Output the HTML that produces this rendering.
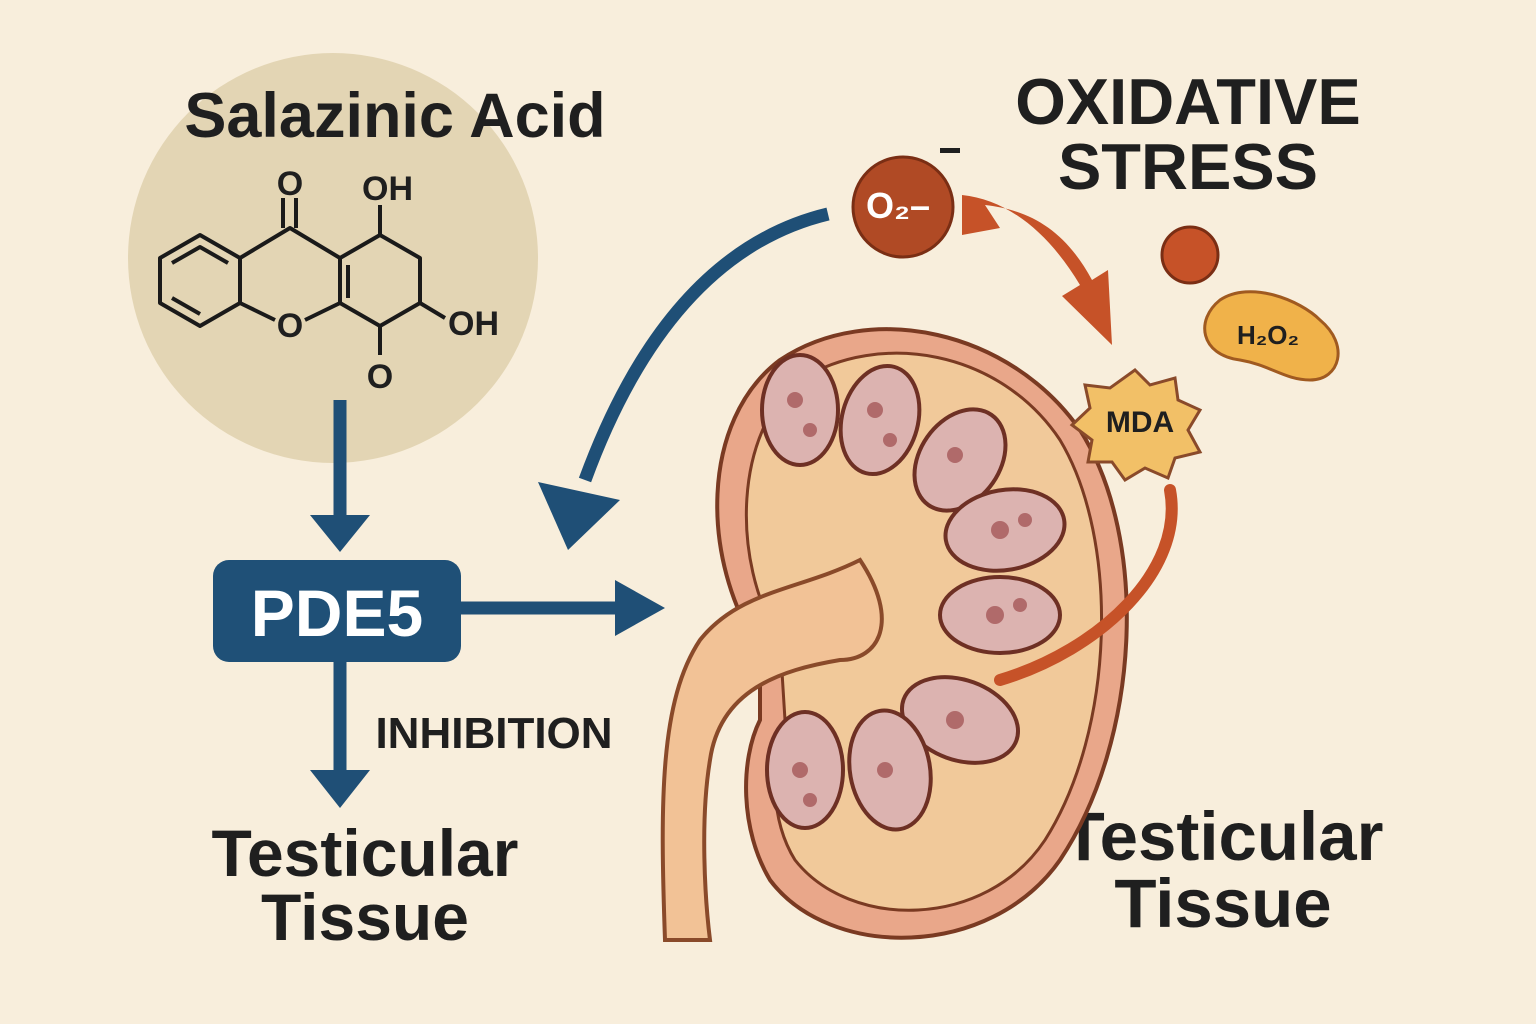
<!DOCTYPE html>
<html><head><meta charset="utf-8"><style>
html,body{margin:0;padding:0;background:#f8eedc;}
svg{display:block}
text{font-family:"Liberation Sans",sans-serif;font-weight:bold;fill:#1f1f1f}
</style></head><body>
<svg width="1536" height="1024" viewBox="0 0 1536 1024" xmlns="http://www.w3.org/2000/svg">
<rect width="1536" height="1024" fill="#f8eedc"/>
<circle cx="333" cy="258" r="205" fill="#e3d5b4"/>
<text x="395" y="137" font-size="63" text-anchor="middle">Salazinic Acid</text>
<!-- molecule -->
<g stroke="#1a1a1a" stroke-width="4" fill="none" stroke-linejoin="round">
<polygon points="160,258 200,235 240,258 240,303 200,326 160,303"/>
<polyline points="172,263 200,247 228,263"/><line x1="172" y1="298" x2="200" y2="314"/>
<polyline points="240,258 290,228 340,258 340,303"/>
<polyline points="240,303 275,320"/><polyline points="305,320 340,303"/>
<line x1="283" y1="228" x2="283" y2="198"/><line x1="296" y1="228" x2="296" y2="198"/>
<polyline points="340,258 380,235 420,258 420,303 380,326 340,303"/>
<line x1="348" y1="265" x2="348" y2="298"/>
<line x1="380" y1="235" x2="380" y2="205"/>
<line x1="420" y1="303" x2="445" y2="318"/>
<line x1="380" y1="326" x2="380" y2="355"/>
</g>
<text x="290" y="195" font-size="34" text-anchor="middle" font-weight="normal">O</text>
<text x="290" y="337" font-size="34" text-anchor="middle" font-weight="normal">O</text>
<text x="362" y="200" font-size="34" font-weight="normal">OH</text>
<text x="448" y="335" font-size="34" font-weight="normal">OH</text>
<text x="380" y="388" font-size="34" text-anchor="middle" font-weight="normal">O</text>
<!-- blue arrows -->
<g stroke="#1f4f76" stroke-width="13" fill="none">
<line x1="340" y1="400" x2="340" y2="520"/>
<line x1="340" y1="660" x2="340" y2="775"/>
<line x1="460" y1="608" x2="620" y2="608"/>
<path d="M828,214 C720,240 640,330 585,480"/>
</g>
<g fill="#1f4f76">
<polygon points="310,515 370,515 340,552"/>
<polygon points="310,770 370,770 340,808"/>
<polygon points="615,580 615,636 665,608"/>
<polygon points="538,482 620,500 568,550"/>
</g>
<rect x="213" y="560" width="248" height="102" rx="16" fill="#1f5077"/>
<text x="337" y="636" font-size="66" text-anchor="middle" style="fill:#fff">PDE5</text>
<text x="494" y="748" font-size="44" text-anchor="middle">INHIBITION</text>
<text x="365" y="876" font-size="66" text-anchor="middle">Testicular</text>
<text x="365" y="940" font-size="66" text-anchor="middle">Tissue</text>
<text x="1223" y="860" font-size="69" text-anchor="middle">Testicular</text>
<text x="1223" y="927" font-size="69" text-anchor="middle">Tissue</text>
<text x="1188" y="124" font-size="65" text-anchor="middle">OXIDATIVE</text>
<text x="1188" y="189" font-size="65" text-anchor="middle">STRESS</text>
<!-- kidney -->
<path d="M760,650 C700,560 700,420 780,360 C870,300 1010,330 1080,430 C1150,540 1140,740 1060,860 C990,960 830,960 770,880 C740,830 740,760 760,720 Z" fill="#e9a78a" stroke="#7a3a22" stroke-width="4"/>
<path d="M780,640 C730,560 735,430 800,380 C880,330 1000,350 1060,440 C1120,540 1115,730 1045,840 C985,930 850,930 795,860 C770,820 770,760 785,720 Z" fill="#f1c99a" stroke="#7a3a22" stroke-width="3"/>
<path d="M665,940 C660,800 660,700 700,640 C740,590 800,590 860,560 C900,620 880,660 840,660 C780,670 720,690 710,760 C700,820 705,900 710,940 Z" fill="#f2c296" stroke="#8a4a2a" stroke-width="4"/>
<g fill="#dcb3b0" stroke="#6e3024" stroke-width="4">
<ellipse cx="800" cy="410" rx="38" ry="55"/>
<ellipse cx="880" cy="420" rx="38" ry="55" transform="rotate(15 880 420)"/>
<ellipse cx="960" cy="460" rx="40" ry="55" transform="rotate(35 960 460)"/>
<ellipse cx="1005" cy="530" rx="60" ry="40" transform="rotate(-10 1005 530)"/>
<ellipse cx="1000" cy="615" rx="60" ry="38"/>
<ellipse cx="960" cy="720" rx="60" ry="40" transform="rotate(20 960 720)"/>
<ellipse cx="890" cy="770" rx="40" ry="60" transform="rotate(-10 890 770)"/>
<ellipse cx="805" cy="770" rx="38" ry="58"/>
</g>
<g fill="#b06a6a">
<circle cx="795" cy="400" r="8"/><circle cx="810" cy="430" r="7"/><circle cx="875" cy="410" r="8"/><circle cx="890" cy="440" r="7"/>
<circle cx="955" cy="455" r="8"/><circle cx="1000" cy="530" r="9"/><circle cx="1025" cy="520" r="7"/><circle cx="995" cy="615" r="9"/>
<circle cx="1020" cy="605" r="7"/><circle cx="955" cy="720" r="9"/><circle cx="885" cy="770" r="8"/><circle cx="800" cy="770" r="8"/><circle cx="810" cy="800" r="7"/>
</g>
<!-- oxidative -->
<circle cx="903" cy="207" r="50" fill="#b04a25" stroke="#7a2e14" stroke-width="3"/>
<text x="898" y="218" font-size="36" text-anchor="middle" style="fill:#fff">O₂–</text>
<rect x="940" y="148" width="20" height="5" fill="#1f1f1f"/>
<path d="M962,195 C1010,200 1050,235 1080,285 L1062,296 L1112,345 L1108,270 L1092,280 C1065,230 1030,210 985,205 L1000,228 L962,235 Z" fill="#c65228"/>
<circle cx="1190" cy="255" r="28" fill="#c65228" stroke="#7a2e14" stroke-width="3"/>
<path d="M1220,300 C1250,280 1300,300 1320,320 C1350,345 1340,380 1310,380 C1285,380 1270,365 1240,360 C1200,355 1195,320 1220,300 Z" fill="#f0b24a" stroke="#a05a20" stroke-width="3"/>
<text x="1268" y="344" font-size="26" text-anchor="middle">H₂O₂</text>
<polygon points="1135,370 1150,385 1175,378 1178,400 1200,410 1188,430 1200,452 1175,458 1168,478 1145,468 1125,480 1112,462 1088,462 1092,440 1072,425 1090,408 1085,385 1110,388" fill="#f2c067" stroke="#8a4a2a" stroke-width="3"/>
<text x="1140" y="432" font-size="30" text-anchor="middle">MDA</text>
<path d="M1170,490 C1185,570 1100,650 1000,680" stroke="#c65228" stroke-width="12" fill="none" stroke-linecap="round"/>
</svg>
</body></html>
